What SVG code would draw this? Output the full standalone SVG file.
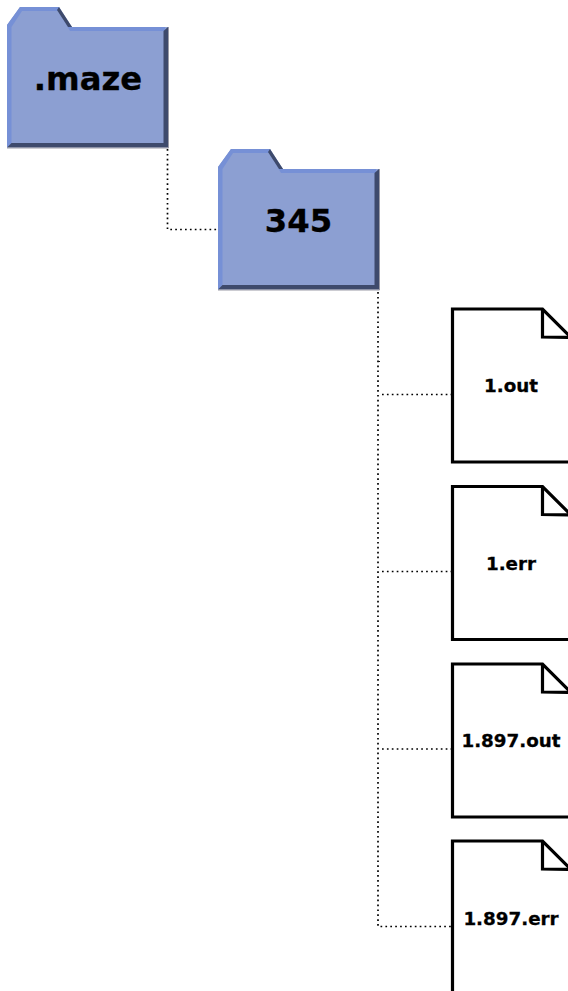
<svg xmlns="http://www.w3.org/2000/svg" width="568" height="991" viewBox="0 0 568 991">
<style>
text{font-family:"DejaVu Sans",sans-serif;font-weight:700;fill:#000;text-anchor:middle;stroke:#000;stroke-width:.3}
.ft{font-size:32.300px}
.dt{font-size:18.300px}
.wire{fill:none;stroke:#000;stroke-width:1.700;stroke-dasharray:1.700 3.200}
.body{fill:#8c9fd2}
.hi{fill:#7690d6}
.sh{fill:#3e4a6c}
.edge{fill:none;stroke:#9a9aa6;stroke-width:1}
.page{fill:#fff;stroke:#000;stroke-width:3.200;stroke-linejoin:miter}
.fold{fill:none;stroke:#000;stroke-width:3.200}
</style>
<defs>
<g id="folder">
<path class="body" d="M0 18L13 0H52L65 20H161V140.500H0Z"/>
<path class="hi" d="M0 18L13 0H52L54 4H15L4.500 20V137L0 140.500Z"/>
<path class="hi" d="M65 20H158V24H63L55 10Z"/>
<path class="sh" d="M161 20V140.500H0L4.500 136H156.500V24Z"/>
<path class="sh" d="M52 0L65 20H61L50 3Z"/>
<path class="edge" d="M161.500 20V141H0"/>
</g>
<g id="doc">
<path class="page" d="M0 0H90L120 30V153H0Z"/>
<path class="fold" d="M90 0V28L120 28.500"/>
</g>
</defs>
<g id="connectors">
<path class="wire" d="M167.500 149V229.500H218"/>
<path class="wire" d="M378 292V926.500H452"/>
<path class="wire" d="M382 394.500H452"/>
<path class="wire" d="M382 571.500H452"/>
<path class="wire" d="M382 749H452"/>
<path fill="none" stroke="#111" stroke-width="1.200" d="M378 361.500H380"/>
</g>
<g id="folder-maze"><use href="#folder" x="7" y="7"/><text class="ft" x="88" y="90">.maze</text></g>
<g id="folder-345"><use href="#folder" x="218" y="149"/><text class="ft" x="298.500" y="232">345</text></g>
<g id="doc-1-out"><use href="#doc" x="452.500" y="309"/><text class="dt" x="511" y="392">1.out</text></g>
<g id="doc-1-err"><use href="#doc" x="452.500" y="486.500"/><text class="dt" x="511" y="569.500">1.err</text></g>
<g id="doc-1-897-out"><use href="#doc" x="452.500" y="664"/><text class="dt" x="511" y="747">1.897.out</text></g>
<g id="doc-1-897-err"><use href="#doc" x="452.500" y="841"/><text class="dt" x="511" y="924.500">1.897.err</text></g>
</svg>
